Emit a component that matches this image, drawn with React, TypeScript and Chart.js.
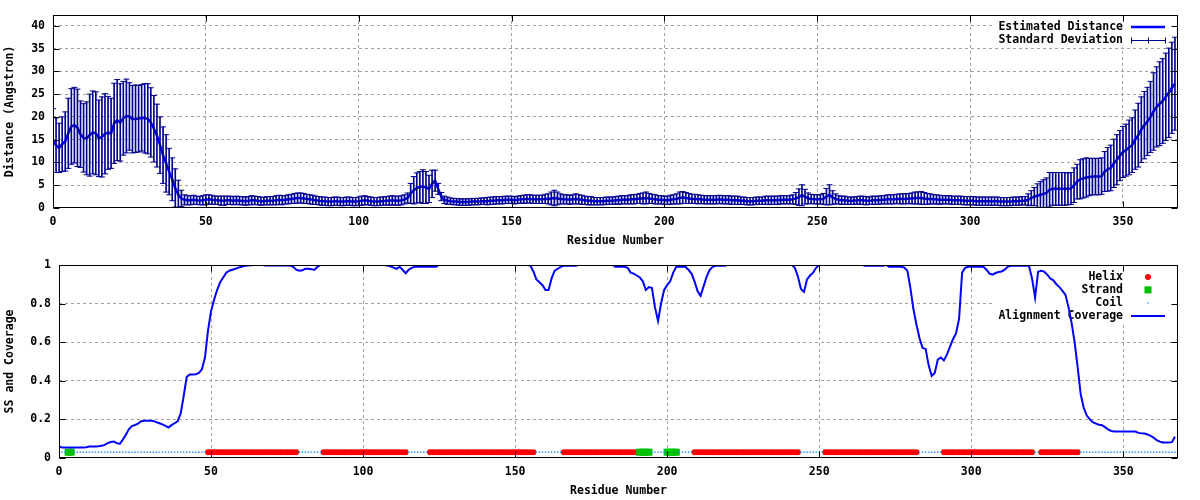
import React, { useEffect, useRef } from "react";
import { Chart, registerables } from "chart.js";

Chart.register(...registerables);

const FONT_FAMILY = "'DejaVu Sans Mono', 'Liberation Mono', monospace";

// ---------- axis ticks ----------
const xTickValues = [0, 50, 100, 150, 200, 250, 300, 350];
const xTickLabels = ["0", "50", "100", "150", "200", "250", "300", "350"];
const distanceTickValues = [0, 5, 10, 15, 20, 25, 30, 35, 40];
const distanceTickLabels = ["0", "5", "10", "15", "20", "25", "30", "35", "40"];
const coverageTickValues = [0, 0.2, 0.4, 0.6, 0.8, 1];
const coverageTickLabels = ["0", "0.2", "0.4", "0.6", "0.8", "1"];
const X_MAX = 368;
const DISTANCE_MAX = 42.4;
const COVERAGE_MAX = 1;

// ---------- data ----------
const estimatedDistance = [
  14.8, 13.8, 13.2, 14.0, 14.6, 16.4, 17.9, 18.2, 17.6, 16.2,
  15.4, 15.3, 16.0, 16.6, 16.4, 15.3, 15.6, 16.3, 16.5, 16.4,
  18.6, 19.3, 18.8, 19.7, 20.2, 20.1, 19.5, 19.6, 19.6, 19.8,
  19.7, 19.6, 18.8, 17.4, 15.9, 13.8, 11.6, 9.8, 8.0, 6.3,
  4.4, 2.9, 2.1, 1.8, 1.7, 1.7, 1.8, 1.7, 1.6, 1.7,
  1.8, 1.9, 1.8, 1.7, 1.7, 1.6, 1.6, 1.7, 1.7, 1.6,
  1.7, 1.6, 1.6, 1.5, 1.6, 1.7, 1.7, 1.6, 1.5, 1.5,
  1.6, 1.6, 1.6, 1.7, 1.8, 1.7, 1.8, 1.9, 2.0, 2.1,
  2.2, 2.2, 2.1, 2.0, 1.9, 1.8, 1.7, 1.6, 1.5, 1.5,
  1.4, 1.4, 1.5, 1.5, 1.4, 1.4, 1.5, 1.5, 1.4, 1.4,
  1.5, 1.6, 1.7, 1.6, 1.5, 1.4, 1.4, 1.5, 1.5, 1.6,
  1.6, 1.7, 1.6, 1.6, 1.7, 1.9, 2.2, 3.2, 3.9, 4.4,
  4.6, 4.7, 4.5, 4.2, 5.3, 6.0, 4.2, 2.5, 1.8, 1.6,
  1.5, 1.4, 1.4, 1.3, 1.3, 1.3, 1.3, 1.4, 1.4, 1.4,
  1.5, 1.5, 1.5, 1.6, 1.6, 1.7, 1.7, 1.7, 1.8, 1.8,
  1.8, 1.7, 1.8, 1.9, 1.9, 2.0, 2.0, 1.9, 1.9, 1.9,
  1.9, 2.0, 2.0, 2.1, 2.2, 2.1, 2.0, 1.9, 1.9, 1.8,
  1.9, 2.0, 1.9, 1.8, 1.7, 1.6, 1.6, 1.5, 1.5, 1.5,
  1.5, 1.6, 1.6, 1.6, 1.7, 1.7, 1.8, 1.8, 1.8, 1.9,
  1.9, 2.0, 2.1, 2.1, 2.2, 2.1, 2.0, 1.9, 1.8, 1.8,
  1.7, 1.7, 1.8, 1.9, 2.0, 2.2, 2.3, 2.2, 2.1, 2.0,
  2.0, 1.9, 1.9, 1.8, 1.8, 1.8, 1.8, 1.8, 1.9, 1.8,
  1.8, 1.8, 1.7, 1.7, 1.7, 1.6, 1.6, 1.5, 1.5, 1.5,
  1.6, 1.6, 1.6, 1.7, 1.7, 1.7, 1.7, 1.7, 1.8, 1.8,
  1.8, 1.8, 1.9, 2.1, 2.4, 2.8, 2.5, 2.1, 2.0, 1.9,
  1.9, 1.9, 2.0, 2.5, 2.9, 2.3, 2.0, 1.8, 1.7, 1.7,
  1.6, 1.6, 1.6, 1.7, 1.7, 1.7, 1.6, 1.6, 1.7, 1.7,
  1.7, 1.8, 1.8, 1.9, 1.9, 1.9, 2.0, 2.0, 2.0, 2.0,
  2.1, 2.1, 2.2, 2.2, 2.2, 2.1, 2.0, 2.0, 1.9, 1.9,
  1.8, 1.8, 1.8, 1.8, 1.7, 1.7, 1.7, 1.7, 1.6, 1.6,
  1.6, 1.6, 1.5, 1.5, 1.5, 1.5, 1.5, 1.5, 1.5, 1.5,
  1.4, 1.4, 1.4, 1.4, 1.5, 1.5, 1.5, 1.6, 1.6, 1.8,
  2.2, 2.5, 2.7, 2.9, 3.1, 3.3, 4.0, 4.2, 4.2, 4.2,
  4.2, 4.2, 4.2, 4.3, 5.0, 5.8, 6.3, 6.5, 6.7, 6.8,
  6.9, 6.9, 6.9, 7.0, 8.0, 8.5, 8.8, 9.8, 10.6, 11.5,
  12.3, 12.7, 13.3, 13.8, 15.0, 16.0, 17.2, 18.2, 19.0, 20.0,
  21.2, 22.2, 22.9, 23.5, 24.4, 25.3, 26.4, 27.3,
];

const standardDeviation = [
  7.0, 6.0, 5.4, 6.0, 6.5, 7.7, 8.3, 8.3, 8.5, 7.3,
  7.5, 8.0, 9.0, 9.1, 9.1, 8.4, 8.8, 8.8, 8.0, 7.7,
  8.8, 8.9, 8.5, 8.1, 8.1, 7.4, 7.4, 7.4, 7.3, 7.3,
  7.6, 7.7, 7.6, 7.3, 6.9, 6.2, 6.2, 6.3, 5.1, 4.7,
  4.2, 3.2, 1.8, 1.1, 1.0, 1.0, 1.0, 0.9, 0.9, 1.0,
  1.1, 1.0, 1.0, 0.9, 0.9, 1.0, 1.0, 0.9, 0.9, 0.9,
  0.9, 0.9, 0.9, 0.9, 0.9, 1.0, 0.9, 0.9, 0.9, 0.8,
  0.9, 0.9, 0.9, 1.0, 1.0, 1.0, 0.9, 1.0, 1.0, 1.1,
  1.1, 1.1, 1.1, 1.0, 1.0, 1.0, 0.9, 0.9, 0.9, 0.9,
  0.9, 0.9, 0.9, 0.9, 0.9, 0.9, 0.9, 0.9, 0.9, 0.9,
  0.9, 1.0, 1.0, 0.9, 0.9, 0.9, 0.9, 0.9, 0.9, 0.9,
  1.0, 1.0, 1.0, 1.0, 1.0, 1.0, 1.1, 2.2, 3.0, 3.3,
  3.4, 3.7, 3.5, 3.0, 3.0, 2.3, 1.2, 0.9, 0.8, 0.8,
  0.7, 0.7, 0.7, 0.7, 0.7, 0.7, 0.7, 0.7, 0.7, 0.7,
  0.7, 0.7, 0.8, 0.8, 0.8, 0.8, 0.8, 0.8, 0.8, 0.8,
  0.8, 0.8, 0.8, 0.8, 0.9, 0.9, 0.9, 0.9, 0.9, 0.9,
  0.9, 1.0, 1.1, 1.4, 1.7, 1.4, 1.1, 1.0, 1.0, 1.0,
  1.0, 1.1, 1.0, 1.0, 0.9, 0.9, 0.9, 0.8, 0.8, 0.8,
  0.8, 0.8, 0.8, 0.8, 0.8, 0.9, 0.9, 0.9, 0.9, 1.0,
  1.0, 1.0, 1.1, 1.2, 1.3, 1.1, 1.0, 1.0, 0.9, 0.9,
  0.9, 0.9, 1.0, 1.0, 1.1, 1.3, 1.3, 1.2, 1.1, 1.0,
  1.0, 1.0, 0.9, 0.9, 0.9, 0.9, 0.9, 0.9, 0.9, 0.9,
  0.9, 0.9, 0.9, 0.9, 0.9, 0.8, 0.8, 0.8, 0.8, 0.8,
  0.8, 0.8, 0.8, 0.9, 0.9, 0.9, 0.9, 0.9, 0.9, 0.9,
  0.9, 0.9, 1.0, 1.3, 1.8, 2.3, 1.6, 1.2, 1.0, 1.0,
  1.0, 1.0, 1.2, 1.8, 2.2, 1.5, 1.1, 0.9, 0.9, 0.9,
  0.8, 0.8, 0.8, 0.8, 0.9, 0.9, 0.9, 0.8, 0.9, 0.9,
  0.9, 0.9, 0.9, 1.0, 1.0, 1.0, 1.0, 1.1, 1.1, 1.1,
  1.1, 1.2, 1.3, 1.3, 1.4, 1.3, 1.2, 1.1, 1.0, 1.0,
  1.0, 0.9, 0.9, 0.9, 0.9, 0.9, 0.9, 0.9, 0.9, 0.9,
  0.9, 0.9, 0.9, 0.9, 0.9, 0.9, 0.9, 0.9, 0.9, 0.9,
  0.9, 0.9, 0.9, 0.9, 0.9, 0.9, 0.9, 0.9, 0.9, 1.3,
  1.6, 2.0, 2.6, 2.9, 3.1, 3.3, 3.8, 3.6, 3.6, 3.6,
  3.6, 3.6, 3.5, 3.5, 3.8, 3.8, 4.3, 4.3, 4.3, 4.1,
  4.0, 4.0, 4.0, 4.0, 4.4, 4.8, 5.0, 5.3, 5.5, 5.5,
  5.6, 5.7, 6.0, 6.0, 6.5, 7.0, 7.2, 7.4, 7.5, 7.8,
  8.5, 8.8, 9.2, 9.3, 9.6, 9.8, 10.0, 10.2,
];

const alignmentCoverage = [
  0.06, 0.055, 0.055, 0.055, 0.055, 0.055, 0.055, 0.055, 0.055, 0.056,
  0.06, 0.06, 0.06, 0.061, 0.063, 0.068, 0.077, 0.083, 0.085, 0.077,
  0.073, 0.095, 0.12, 0.15, 0.165, 0.171, 0.178, 0.19, 0.193, 0.193,
  0.193, 0.192, 0.186, 0.18, 0.174, 0.166, 0.158, 0.17, 0.18, 0.19,
  0.23, 0.32, 0.42, 0.433, 0.433, 0.434, 0.44, 0.46, 0.52, 0.66,
  0.76, 0.82, 0.87, 0.91, 0.935, 0.96, 0.97, 0.975, 0.98, 0.986,
  0.99, 0.995, 0.997, 0.998, 0.999, 1, 1, 1, 0.997, 0.997,
  0.997, 0.997, 0.997, 0.997, 0.997, 0.997, 0.997, 0.99, 0.975, 0.97,
  0.972, 0.98, 0.98, 0.978, 0.974, 0.99, 1, 1, 1, 1,
  1, 1, 1, 1, 1, 1, 1, 1, 1, 1,
  1, 1, 1, 1, 1, 1, 1, 1, 0.997, 0.993,
  0.986, 0.98, 0.99, 0.975, 0.957, 0.975, 0.985, 0.99, 0.99, 0.99,
  0.99, 0.99, 0.99, 0.99, 0.99, 1, 1, 1, 1, 1,
  1, 1, 1, 1, 1, 1, 1, 1, 1, 1,
  1, 1, 1, 1, 1, 1, 1, 1, 1, 1,
  1, 1, 1, 1, 1, 0.997, 0.966, 0.925, 0.91, 0.895,
  0.87, 0.87, 0.93, 0.97, 0.98, 0.99, 0.995, 0.995, 0.995, 0.995,
  0.995, 1, 1, 1, 1, 1, 1, 1, 1, 1,
  1, 1, 1, 0.99, 0.99, 0.99, 0.99, 0.985, 0.96, 0.955,
  0.945, 0.935, 0.915, 0.87, 0.885, 0.88, 0.78, 0.71, 0.8, 0.87,
  0.895, 0.915, 0.96, 0.99, 0.99, 0.99, 0.99, 0.975, 0.955, 0.915,
  0.865, 0.84, 0.89, 0.94, 0.975, 0.99, 0.995, 0.995, 0.995, 0.995,
  1, 1, 1, 1, 1, 1, 1, 1, 1, 1,
  1, 1, 1, 1, 1, 1, 1, 1, 1, 1,
  1, 1, 0.985, 0.94, 0.875, 0.86, 0.925, 0.945, 0.96, 0.985,
  1, 1, 1, 1, 1, 1, 1, 1, 1, 1,
  1, 1, 1, 1, 1, 0.995, 0.995, 0.995, 0.995, 0.995,
  0.995, 0.995, 1, 0.99, 0.99, 0.99, 0.99, 0.99, 0.986, 0.97,
  0.88, 0.77, 0.69, 0.62, 0.57, 0.565, 0.48, 0.425, 0.44, 0.51,
  0.52, 0.505, 0.535, 0.575, 0.615, 0.645, 0.72, 0.96, 0.985, 0.99,
  0.99, 0.99, 0.99, 0.99, 0.99, 0.975, 0.955, 0.95, 0.958, 0.963,
  0.966, 0.975, 0.99, 0.995, 0.995, 0.995, 0.995, 0.995, 0.995, 0.995,
  0.93, 0.83, 0.965, 0.97, 0.965, 0.95, 0.93, 0.92, 0.9, 0.885,
  0.865, 0.845, 0.78, 0.7, 0.6, 0.47, 0.33, 0.26, 0.22, 0.2,
  0.185, 0.178, 0.172, 0.17, 0.16, 0.148, 0.14, 0.137, 0.137, 0.137,
  0.137, 0.137, 0.137, 0.137, 0.137, 0.13, 0.128, 0.127, 0.122, 0.115,
  0.105, 0.093, 0.085, 0.08, 0.08, 0.08, 0.082, 0.11,
];

// Secondary structure per residue, run-length encoded: H = helix, E = strand, C = coil
const secondaryStructureRuns: Array<[string, number]> = [
  ["C", 3], ["E", 2], ["C", 44], ["H", 30], ["C", 8], ["H", 28], ["C", 7],
  ["H", 35], ["C", 9], ["H", 25], ["E", 4], ["C", 5], ["E", 4], ["C", 5],
  ["H", 35], ["C", 8], ["H", 31], ["C", 8], ["H", 30], ["C", 2], ["H", 13],
  ["C", 32],
];
const SS_LEVEL = 0.03;

// ---------- derived tables ----------
const residues = estimatedDistance.map((_, i) => i);
const secondaryStructure: string[] = secondaryStructureRuns.flatMap(([t, n]) =>
  Array.from({ length: n }, () => t)
);
const ssPoints = (type: string) =>
  residues.filter((i) => secondaryStructure[i] === type).map((i) => ({ x: i, y: SS_LEVEL }));

// ---------- plugins ----------
const framePlugin = {
  id: "gnuFrame",
  afterDraw(chart: any) {
    const { ctx, chartArea } = chart;
    const { x, y } = chart.scales;
    const L = Math.round(chartArea.left) + 0.5;
    const R = Math.round(chartArea.right) - 0.5;
    const T = Math.round(chartArea.top) + 0.5;
    const B = Math.round(chartArea.bottom) - 0.5;
    const len = 6;
    ctx.save();
    ctx.strokeStyle = "#000";
    ctx.lineWidth = 1;
    ctx.setLineDash([]);
    ctx.strokeRect(L, T, R - L, B - T);
    ctx.beginPath();
    x.ticks.forEach((t: any) => {
      const px = Math.round(x.getPixelForValue(t.value)) + 0.5;
      ctx.moveTo(px, B);
      ctx.lineTo(px, B - len);
      ctx.moveTo(px, T);
      ctx.lineTo(px, T + len);
    });
    y.ticks.forEach((t: any) => {
      const py = Math.round(y.getPixelForValue(t.value)) + 0.5;
      ctx.moveTo(L, py);
      ctx.lineTo(L + len, py);
      ctx.moveTo(R, py);
      ctx.lineTo(R - len, py);
    });
    ctx.stroke();
    ctx.restore();
  },
};

const keyPlugin = {
  id: "gnuKey",
  beforeDatasetsDraw(chart: any, _args: any, opts: any) {
    const items = opts && opts.items;
    if (!items || !items.length) return;
    const { ctx, chartArea } = chart;
    const font = `bold 11.5px ${FONT_FAMILY}`;
    const textRight = chartArea.right - 55;
    const sampleL = chartArea.right - 47;
    const sampleR = chartArea.right - 13;
    const sampleC = (sampleL + sampleR) / 2;
    const rowY = (k: number) => chartArea.top + 12 + k * 13;
    ctx.save();
    ctx.font = font;
    let maxW = 0;
    items.forEach((it: any) => {
      const ds = chart.data.datasets[it.ds];
      maxW = Math.max(maxW, ctx.measureText(ds.label).width);
    });
    ctx.fillStyle = "#fff";
    const boxL = textRight - maxW - 5;
    ctx.fillRect(boxL, chartArea.top + 1, chartArea.right - 1 - boxL, rowY(items.length - 1) + 7 - chartArea.top - 1);
    items.forEach((it: any, k: number) => {
      const ds = chart.data.datasets[it.ds];
      const y = rowY(k);
      ctx.fillStyle = "#000";
      ctx.textAlign = "right";
      ctx.textBaseline = "middle";
      ctx.fillText(ds.label, textRight, y);
      if (it.kind === "line") {
        ctx.strokeStyle = ds.borderColor;
        ctx.lineWidth = ds.borderWidth;
        ctx.beginPath();
        ctx.moveTo(sampleL, y);
        ctx.lineTo(sampleR, y);
        ctx.stroke();
      } else if (it.kind === "errorbar") {
        ctx.strokeStyle = ds.backgroundColor;
        ctx.lineWidth = 1;
        const yy = Math.round(y) + 0.5;
        ctx.beginPath();
        ctx.moveTo(sampleL, yy);
        ctx.lineTo(sampleR, yy);
        [sampleL, sampleC, sampleR].forEach((sx) => {
          const xx = Math.round(sx) + 0.5;
          ctx.moveTo(xx, yy - 3);
          ctx.lineTo(xx, yy + 3);
        });
        ctx.stroke();
      } else if (it.kind === "point") {
        ctx.fillStyle = ds.pointBackgroundColor;
        const r = ds.pointRadius;
        ctx.beginPath();
        if (ds.pointStyle === "circle") {
          ctx.arc(sampleC, y, r, 0, Math.PI * 2);
        } else {
          const h = r * Math.SQRT1_2;
          ctx.rect(sampleC - h, y - h, 2 * h, 2 * h);
        }
        ctx.fill();
      }
    });
    ctx.restore();
  },
};

// ---------- shared scale helpers ----------
const tickFont = { family: FONT_FAMILY, size: 11.5, weight: "bold" as const };
const GRID_COLOR = "#a0a0a0";

function xScale() {
  return {
    type: "linear" as const,
    min: 0,
    max: X_MAX,
    offset: false,
    afterBuildTicks: (s: any) => {
      s.ticks = xTickValues.map((v) => ({ value: v }));
    },
    afterFit: (s: any) => {
      s.height = 42;
    },
    ticks: {
      font: tickFont,
      color: "#000",
      padding: 7,
      maxRotation: 0,
      autoSkip: false,
      callback: (v: any) => xTickLabels[xTickValues.indexOf(v)] ?? "",
    },
    grid: {
      offset: false,
      drawTicks: false,
      lineWidth: 1,
      color: (c: any) => (c.tick && c.tick.value === 0 ? "rgba(0,0,0,0)" : GRID_COLOR),
    },
    border: { display: false, dash: [3, 3] },
    title: {
      display: true,
      text: "Residue Number",
      font: tickFont,
      color: "#000",
      padding: { top: 0, bottom: 2 },
    },
  };
}

function yScale(max: number, values: number[], labels: string[], title: string, width: number) {
  return {
    type: "linear" as const,
    min: 0,
    max,
    beginAtZero: true,
    afterBuildTicks: (s: any) => {
      s.ticks = values.map((v) => ({ value: v }));
    },
    afterFit: (s: any) => {
      s.width = width;
    },
    ticks: {
      font: tickFont,
      color: "#000",
      padding: 8,
      autoSkip: false,
      callback: (v: any) => labels[values.indexOf(v)] ?? "",
    },
    grid: {
      drawTicks: false,
      lineWidth: 1,
      color: (c: any) =>
        c.tick && (c.tick.value === 0 || c.tick.value === max) ? "rgba(0,0,0,0)" : GRID_COLOR,
    },
    border: { display: false, dash: [3, 3] },
    title: {
      display: true,
      text: title,
      font: tickFont,
      color: "#000",
      padding: { top: 3, bottom: 0 },
    },
  };
}

export default function App() {
  const topRef = useRef<HTMLCanvasElement | null>(null);
  const bottomRef = useRef<HTMLCanvasElement | null>(null);

  useEffect(() => {
    const ERR_COLOR = "#000090";
    const distanceData = residues.map((i) => ({ x: i, y: estimatedDistance[i] }));
    const sdBars = residues.map((i) => ({
      x: i,
      y: [estimatedDistance[i] - standardDeviation[i], estimatedDistance[i] + standardDeviation[i]],
    }));
    const sdCaps = residues.flatMap((i) => [
      { x: i, y: estimatedDistance[i] + standardDeviation[i] },
      { x: i, y: estimatedDistance[i] - standardDeviation[i] },
    ]);

    const topChart = new Chart(topRef.current as HTMLCanvasElement, {
      type: "line",
      data: {
        datasets: [
          {
            type: "line",
            label: "Estimated Distance",
            data: distanceData,
            borderColor: "#0000ff",
            borderWidth: 2.5,
            pointRadius: 0,
            tension: 0,
            order: 2,
          },
          {
            type: "bar",
            label: "Standard Deviation",
            data: sdBars as any,
            backgroundColor: ERR_COLOR,
            borderWidth: 0,
            barThickness: 1,
            grouped: false,
            order: 1,
          },
          {
            type: "line",
            label: "Standard Deviation caps",
            data: sdCaps,
            showLine: false,
            pointStyle: "line",
            pointRadius: 3,
            pointBorderWidth: 1,
            pointBorderColor: ERR_COLOR,
            borderColor: ERR_COLOR,
            order: 0,
          },
        ] as any,
      },
      options: {
        responsive: false,
        maintainAspectRatio: false,
        animation: false,
        devicePixelRatio: 1,
        events: [],
        layout: { padding: { top: 14, right: 22, bottom: 0, left: 0 } },
        scales: {
          x: xScale(),
          y: yScale(DISTANCE_MAX, distanceTickValues, distanceTickLabels, "Distance (Angstron)", 53),
        } as any,
        plugins: {
          legend: { display: false },
          tooltip: { enabled: false },
          gnuKey: {
            items: [
              { ds: 0, kind: "line" },
              { ds: 1, kind: "errorbar" },
            ],
          },
        } as any,
      },
      plugins: [keyPlugin, framePlugin],
    });

    const coverageData = residues.map((i) => ({ x: i, y: alignmentCoverage[i] }));

    const bottomChart = new Chart(bottomRef.current as HTMLCanvasElement, {
      type: "line",
      data: {
        datasets: [
          {
            label: "Helix",
            data: ssPoints("H"),
            showLine: false,
            pointStyle: "circle",
            pointRadius: 3,
            pointBorderWidth: 0,
            pointBackgroundColor: "#ff0000",
            pointBorderColor: "#ff0000",
            borderColor: "#ff0000",
            order: 3,
          },
          {
            label: "Strand",
            data: ssPoints("E"),
            showLine: false,
            pointStyle: "rect",
            pointRadius: 5,
            pointBorderWidth: 0,
            pointBackgroundColor: "#00c000",
            pointBorderColor: "#00c000",
            borderColor: "#00c000",
            order: 2,
          },
          {
            label: "Coil",
            data: ssPoints("C"),
            showLine: false,
            pointStyle: "rect",
            pointRadius: 1,
            pointBorderWidth: 0,
            pointBackgroundColor: "#1e90ff",
            pointBorderColor: "#1e90ff",
            borderColor: "#1e90ff",
            order: 1,
          },
          {
            label: "Alignment Coverage",
            data: coverageData,
            borderColor: "#0000ff",
            borderWidth: 2,
            pointRadius: 0,
            tension: 0,
            order: 0,
          },
        ] as any,
      },
      options: {
        responsive: false,
        maintainAspectRatio: false,
        animation: false,
        devicePixelRatio: 1,
        events: [],
        layout: { padding: { top: 13, right: 22, bottom: 0, left: 0 } },
        scales: {
          x: xScale(),
          y: yScale(COVERAGE_MAX, coverageTickValues, coverageTickLabels, "SS and Coverage", 59),
        } as any,
        plugins: {
          legend: { display: false },
          tooltip: { enabled: false },
          gnuKey: {
            items: [
              { ds: 0, kind: "point" },
              { ds: 1, kind: "point" },
              { ds: 2, kind: "point" },
              { ds: 3, kind: "line" },
            ],
          },
        } as any,
      },
      plugins: [keyPlugin, framePlugin],
    });

    return () => {
      topChart.destroy();
      bottomChart.destroy();
    };
  }, []);

  return (
    <div
      style={{
        position: "absolute",
        left: 0,
        top: 0,
        width: 1200,
        height: 500,
        background: "#fff",
      }}
    >
      <canvas ref={topRef} width={1200} height={250} style={{ display: "block", width: 1200, height: 250 }} />
      <canvas ref={bottomRef} width={1200} height={250} style={{ display: "block", width: 1200, height: 250 }} />
    </div>
  );
}
